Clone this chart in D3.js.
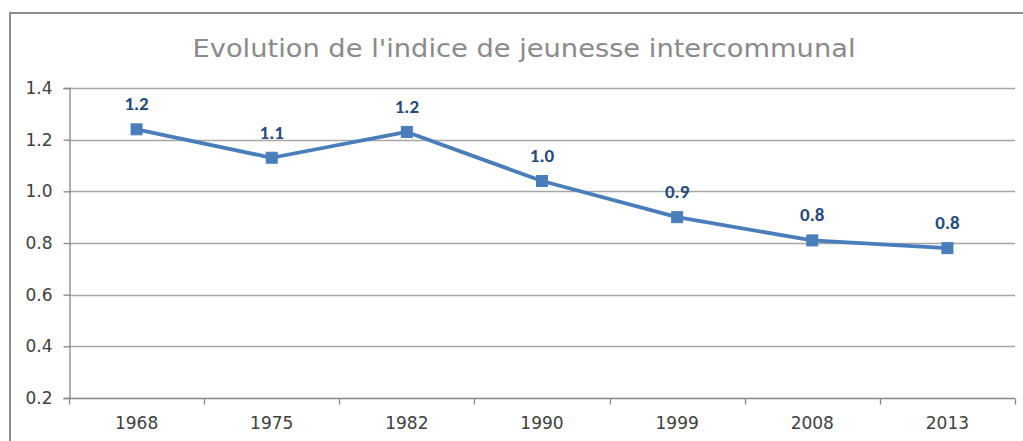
<!DOCTYPE html>
<html>
<head>
<meta charset="utf-8">
<script src="https://cdn.jsdelivr.net/npm/d3@7"></script>
<style>
  html, body { margin: 0; padding: 0; background: #ffffff; }
  svg { display: block; }
</style>
</head>
<body>
<svg id="chart" width="1023" height="441"></svg>
<script>
// Indice de jeunesse intercommunal par recensement
const years = ["1968", "1975", "1982", "1990", "1999", "2008", "2013"];
const indexValues = [1.24, 1.13, 1.23, 1.04, 0.90, 0.81, 0.78];
const yTicks = [0.2, 0.4, 0.6, 0.8, 1.0, 1.2, 1.4];
const title = "Evolution de l'indice de jeunesse intercommunal";

const svg = d3.select("#chart");
const plot = { left: 69, right: 1015, top: 88, bottom: 398 };
const axisFont = "'Century Gothic', 'DejaVu Sans', sans-serif";

// outer chart frame
svg.append("rect")
  .attr("x", 10).attr("y", 13)
  .attr("width", 1030).attr("height", 460)
  .attr("fill", "#ffffff")
  .attr("stroke", "#8c8c8c")
  .attr("stroke-width", 2);

// title
svg.append("text")
  .attr("x", 524).attr("y", 57)
  .attr("text-anchor", "middle")
  .attr("font-family", axisFont)
  .attr("font-weight", 400)
  .attr("font-size", 25)
  .attr("fill", "#8a8a8a")
  .attr("textLength", 663)
  .attr("lengthAdjust", "spacingAndGlyphs")
  .text(title);

const x = d3.scaleBand().domain(years).range([plot.left, plot.right]).padding(0);
const y = d3.scaleLinear().domain([0.2, 1.4]).range([plot.bottom, plot.top]);

// horizontal gridlines
svg.append("g")
  .selectAll("line")
  .data(yTicks.slice(1))
  .join("line")
  .attr("x1", plot.left).attr("x2", plot.right)
  .attr("y1", d => Math.round(y(d)) + 0.5).attr("y2", d => Math.round(y(d)) + 0.5)
  .attr("stroke", "#a6a6a6")
  .attr("stroke-width", 1.3);

// y axis
const yAxis = svg.append("g")
  .attr("transform", `translate(${plot.left + 0.5},0)`)
  .call(d3.axisLeft(y).tickValues(yTicks).tickFormat(d3.format(".1f")).tickSize(6).tickPadding(11));
yAxis.select(".domain").attr("stroke", "#868686").attr("stroke-width", 1.3);
yAxis.selectAll(".tick line").attr("stroke", "#868686").attr("stroke-width", 1.3);
yAxis.selectAll(".tick text")
  .attr("font-family", axisFont).attr("font-size", 17).attr("fill", "#404040");

// x axis with ticks at category boundaries
const xAxisG = svg.append("g").attr("transform", `translate(0,${plot.bottom + 0.5})`);
xAxisG.append("line")
  .attr("x1", plot.left).attr("x2", plot.right)
  .attr("stroke", "#868686").attr("stroke-width", 1.3);
const boundaries = years.map(d => x(d)).concat([x(years[years.length - 1]) + x.bandwidth()]);
xAxisG.selectAll("line.tick")
  .data(boundaries)
  .join("line")
  .attr("class", "tick")
  .attr("x1", d => Math.round(d) + 0.5).attr("x2", d => Math.round(d) + 0.5)
  .attr("y1", 0).attr("y2", 6)
  .attr("stroke", "#868686").attr("stroke-width", 1.3);
xAxisG.selectAll("text")
  .data(years)
  .join("text")
  .attr("x", d => x(d) + x.bandwidth() / 2)
  .attr("y", 30)
  .attr("text-anchor", "middle")
  .attr("font-family", axisFont).attr("font-size", 17).attr("fill", "#404040")
  .text(d => d);

const cx = d => x(d) + x.bandwidth() / 2;
const pts = years.map((yr, i) => ({ yr, v: indexValues[i] }));

// series line
svg.append("path")
  .datum(pts)
  .attr("fill", "none")
  .attr("stroke", "#4a7ebb")
  .attr("stroke-width", 3.8)
  .attr("stroke-linejoin", "round")
  .attr("d", d3.line().x(d => cx(d.yr)).y(d => y(d.v)));

// square markers
const ms = 11;
svg.append("g")
  .selectAll("rect")
  .data(pts)
  .join("rect")
  .attr("x", d => cx(d.yr) - ms / 2)
  .attr("y", d => y(d.v) - ms / 2)
  .attr("width", ms).attr("height", ms)
  .attr("fill", "#4a7ebb")
  .attr("stroke", "#4a7ebb")
  .attr("stroke-width", 1);

// value labels
svg.append("g")
  .selectAll("text")
  .data(pts)
  .join("text")
  .attr("x", d => cx(d.yr))
  .attr("y", d => y(d.v) - 19)
  .attr("text-anchor", "middle")
  .attr("font-family", "Carlito, Calibri, 'Open Sans', 'Liberation Sans', sans-serif")
  .attr("font-weight", "bold")
  .attr("font-size", 19)
  .attr("fill", "#27497a")
  .text(d => d3.format(".1f")(d.v));
</script>
</body>
</html>
